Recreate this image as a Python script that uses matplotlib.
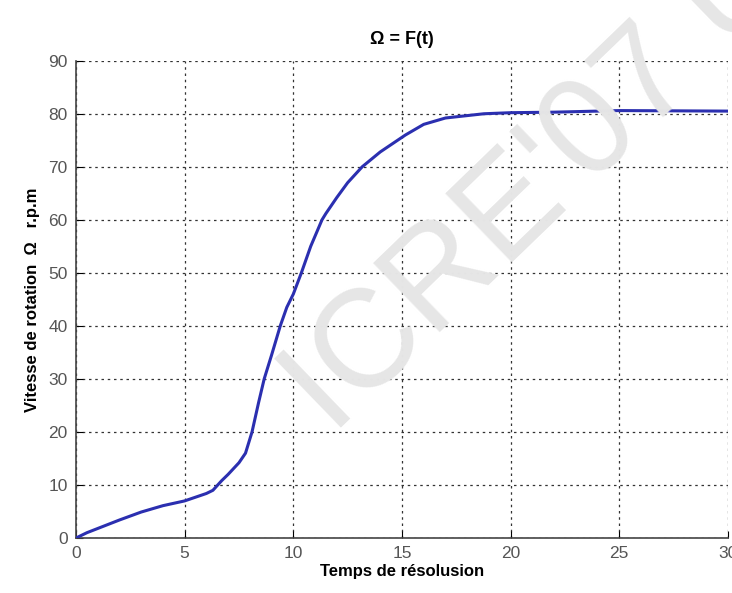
import matplotlib.pyplot as plt

# temps de résolution / vitesse de rotation
t = [0, 0.5, 1, 2, 3, 4, 5, 6, 6.3, 6.7, 7, 7.5, 7.8, 8.1, 8.4, 8.66, 9, 9.4, 9.7,
     10, 10.37, 10.8, 11.32, 11.5, 12, 12.5, 13.17, 14, 15.16, 16, 17, 18.77,
     20, 22, 25, 30]
omega = [0, 1, 1.8, 3.4, 4.9, 6.1, 7, 8.4, 9, 10.8, 12, 14.2, 16, 20, 25.5, 30,
         34.5, 40, 43.5, 46, 50, 55, 60, 61.2, 64.2, 67, 70, 72.8, 76, 78, 79.2,
         80, 80.2, 80.3, 80.6, 80.5]

xticks = [0, 5, 10, 15, 20, 25, 30]
yticks = [0, 10, 20, 30, 40, 50, 60, 70, 80, 90]

plt.rcParams['font.family'] = ['Liberation Sans', 'DejaVu Sans']

fig = plt.figure(figsize=(7.32, 5.93), dpi=100)
ax = fig.add_axes([0.1038, 0.0927, 0.8907, 0.8049])

# filigrane
fig.text(0.74, 0.69, "ICRE'07 U", fontsize=100, color='#e6e6e6', rotation=44,
         ha='center', va='center', zorder=0)
ax.patch.set_alpha(0)

ax.plot(t, omega, color='#2b2fb0', linewidth=2.2, zorder=3)

ax.set_xlim(0, 30)
ax.set_ylim(0, 90)
ax.set_xticks(xticks)
ax.set_yticks(yticks)
ax.grid(True, linestyle=(0, (2, 3)), color='#333333', linewidth=0.9)
ax.tick_params(direction='in', length=5, labelsize=12.5, labelcolor='#555555', pad=6)
for s in ['top', 'right']:
    ax.spines[s].set_visible(False)
for s in ['left', 'bottom']:
    ax.spines[s].set_color('#444444')
    ax.spines[s].set_linewidth(1.2)

ax.set_title('Ω = F(t)', fontsize=13, fontweight='bold', pad=12)
ax.set_xlabel('Temps de résolusion', fontsize=12, fontweight='bold', labelpad=2)
ax.set_ylabel('Vitesse de rotation  Ω   r.p.m', fontsize=12, fontweight='bold', labelpad=6)

fig.savefig('out.png', dpi=100)
